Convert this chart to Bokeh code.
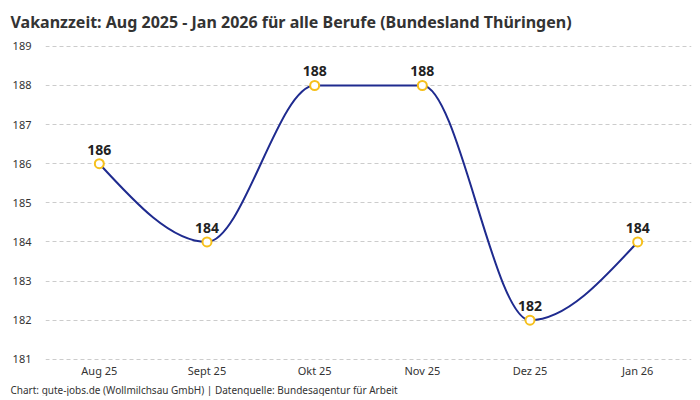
import numpy as np
from bokeh.plotting import figure
from bokeh.models import Range1d, FixedTicker, Title, ColumnDataSource, LabelSet
from bokeh.core.properties import value
from bokeh.embed import file_html
from bokeh.resources import INLINE

months = ["Aug 25", "Sept 25", "Okt 25", "Nov 25", "Dez 25", "Jan 26"]
vakanzzeit = [186, 184, 188, 188, 182, 184]
y_ticks = [181, 182, 183, 184, 185, 186, 187, 188, 189]

FONT = "Noto Sans"
LINE_COLOR = "#1f2b8f"
MARKER_COLOR = "#f6c01c"

x = np.arange(len(months), dtype=float)
y = np.array(vakanzzeit, dtype=float)

# monotone cubic (monotoneX) tangents
n = len(x)
t = np.zeros(n)
for i in range(1, n - 1):
    h0 = x[i] - x[i - 1]
    h1 = x[i + 1] - x[i]
    s0 = (y[i] - y[i - 1]) / h0
    s1 = (y[i + 1] - y[i]) / h1
    pp = (s0 * h1 + s1 * h0) / (h0 + h1)
    t[i] = (np.sign(s0) + np.sign(s1)) * min(abs(s0), abs(s1), 0.5 * abs(pp))
t[0] = (3 * (y[1] - y[0]) / (x[1] - x[0]) - t[1]) / 2
t[-1] = (3 * (y[-1] - y[-2]) / (x[-1] - x[-2]) - t[-2]) / 2

dx = x[1:] - x[:-1]
bez = dict(
    x0=x[:-1], y0=y[:-1], x1=x[1:], y1=y[1:],
    cx0=x[:-1] + dx / 3, cy0=y[:-1] + dx * t[:-1] / 3,
    cx1=x[1:] - dx / 3, cy1=y[1:] - dx * t[1:] / 3,
)

p = figure(frame_width=646, frame_height=320, output_backend="svg", toolbar_location=None,
           x_range=Range1d(-0.5, len(months) - 0.5),
           y_range=Range1d(180.97, 189.15),
           min_border_left=45, min_border_right=9, min_border_top=0, min_border_bottom=0)
p.outline_line_color = None
p.background_fill_color = "white"
p.border_fill_color = "white"

p.title.text = "Vakanzzeit: Aug 2025 - Jan 2026 für alle Berufe (Bundesland Thüringen)"
p.title.text_font = FONT
p.title.text_font_size = "16px"
p.title.text_font_style = "bold"
p.title.text_color = "#333333"
p.title.align = "left"
p.title.offset = -35
p.title.standoff = 16

footer = Title(text="Chart: gute-jobs.de (Wollmilchsau GmbH) | Datenquelle: Bundesagentur für Arbeit",
               text_font=FONT, text_font_size="10px", text_font_style="normal",
               text_color="#333333", align="left", offset=-35, standoff=0)
p.add_layout(footer, "below")

p.xaxis.ticker = FixedTicker(ticks=list(x))
p.xaxis.major_label_overrides = {float(i): m for i, m in enumerate(months)}
p.xaxis.major_label_overrides.update({int(i): m for i, m in enumerate(months)})
p.yaxis.ticker = FixedTicker(ticks=y_ticks)
for ax in (p.xaxis, p.yaxis):
    ax.axis_line_color = None
    ax.major_tick_line_color = None
    ax.minor_tick_line_color = None
    ax.major_tick_out = 0
    ax.major_tick_in = 0
    ax.major_label_text_font = FONT
    ax.major_label_text_font_size = "11px"
    ax.major_label_text_color = "#333333"
p.xaxis.major_label_standoff = 2
p.yaxis.major_label_standoff = 14

p.xgrid.grid_line_color = None
p.ygrid.grid_line_color = "#cccccc"
p.ygrid.grid_line_dash = "4 3"
p.ygrid.grid_line_width = 1

p.bezier(x0="x0", y0="y0", x1="x1", y1="y1", cx0="cx0", cy0="cy0", cx1="cx1", cy1="cy1",
         source=ColumnDataSource(bez), line_color=LINE_COLOR, line_width=2)

src = ColumnDataSource(dict(x=x, y=y, label=[str(v) for v in vakanzzeit]))
p.scatter("x", "y", source=src, size=9, fill_color="white", line_color=MARKER_COLOR, line_width=2)

labels = LabelSet(x="x", y="y", text="label", source=src, y_offset=9, text_align="center",
                  text_baseline="alphabetic", text_font=value(FONT), text_font_size="14px",
                  text_font_style="bold", text_color="#222222")
p.add_layout(labels)

open("out.html", "w").write(file_html(p, INLINE))
